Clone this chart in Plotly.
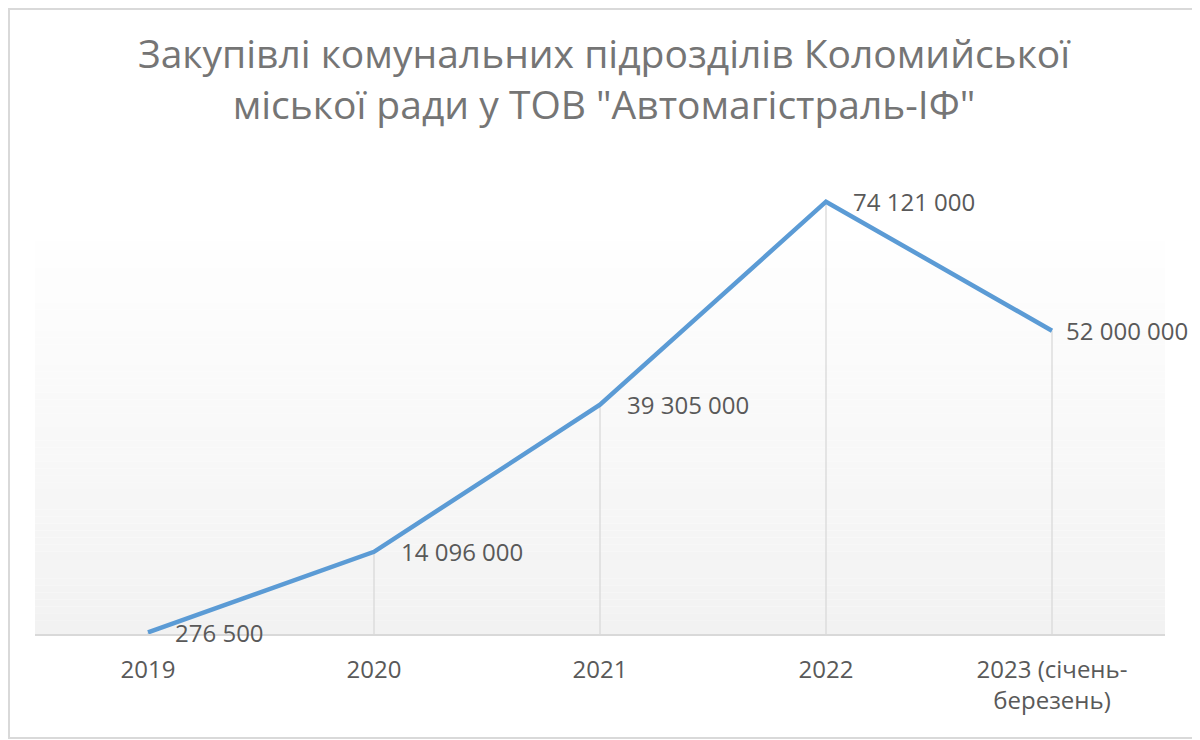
import plotly.graph_objects as go

categories = ["2019", "2020", "2021", "2022", "2023 (січень-<br>березень)"]
values = [276500, 14096000, 39305000, 74121000, 52000000]
labels = ["276 500", "14 096 000", "39 305 000", "74 121 000", "52 000 000"]
title_text = "Закупівлі комунальних підрозділів Коломийської<br>міської ради у ТОВ \"Автомагістраль-ІФ\""

# page body has an 8px margin, so the figure is sized to fit the window
W, H = 1192, 732
ML, MR, MT, MB = 27, 35, 152, 106
PW, PH = W - ML - MR, H - MT - MB
GRAD_TOP = 414 / PH  # gradient plot-area band height (paper units)

fig = go.Figure()

# drop lines
dx, dy = [], []
for i, v in enumerate(values):
    dx += [i, i, None]
    dy += [0, v, None]
fig.add_trace(go.Scatter(x=dx, y=dy, mode="lines",
                         line=dict(color="#D9D9D9", width=1.3),
                         hoverinfo="skip", showlegend=False))

fig.add_trace(go.Scatter(x=list(range(len(categories))), y=values, mode="lines",
                         line=dict(color="#5B9BD5", width=4.5),
                         showlegend=False))

n = len(values)
for i, (v, t) in enumerate(zip(values, labels)):
    # last label is pulled in to stay inside the chart
    shift = 12 if i == n - 1 else 25
    fig.add_annotation(x=i, y=v, text=t, showarrow=False, xanchor="left",
                       yanchor="middle", xshift=shift,
                       font=dict(family="Open Sans", size=24, color="#595959"))

# gradient background of plot area
N = 60
shapes = []
for i in range(N):
    f = i / (N - 1)
    g = round(255 - (255 - 242) * (1 - f))
    col = f"rgb({g},{g},{g})"
    shapes.append(dict(type="rect", xref="paper", yref="paper",
                       x0=0, x1=1, y0=GRAD_TOP * i / N, y1=GRAD_TOP * (i + 1) / N,
                       fillcolor=col, line=dict(width=0), layer="below"))
# chart border
shapes.append(dict(type="rect", xref="paper", yref="paper",
                   x0=(1 - ML) / PW, x1=(W - 2 - ML) / PW,
                   y0=(MT + PH - (H - 2)) / PH, y1=(MT + PH - 1) / PH,
                   line=dict(color="#D9D9D9", width=2), fillcolor="rgba(0,0,0,0)"))

fig.update_layout(
    width=W, height=H,
    margin=dict(l=ML, r=MR, t=MT, b=MB),
    paper_bgcolor="white", plot_bgcolor="rgba(0,0,0,0)",
    shapes=shapes,
    title=dict(text=title_text, x=0.5, xanchor="center", y=1 - 60 / H, yanchor="middle",
               font=dict(family="Open Sans", size=39, color="#757575")),
    xaxis=dict(range=[-0.5, len(categories) - 0.5],
               tickmode="array", tickvals=list(range(len(categories))),
               ticktext=categories,
               showgrid=False, zeroline=False, showline=True,
               linecolor="#D9D9D9", linewidth=1.5, ticks="", ticklen=0,
               ticklabelstandoff=13,
               tickfont=dict(family="Open Sans", size=24, color="#595959")),
    yaxis=dict(range=[0, 81270000], visible=False, showgrid=False, zeroline=False),
)

fig.write_html("out.html")
